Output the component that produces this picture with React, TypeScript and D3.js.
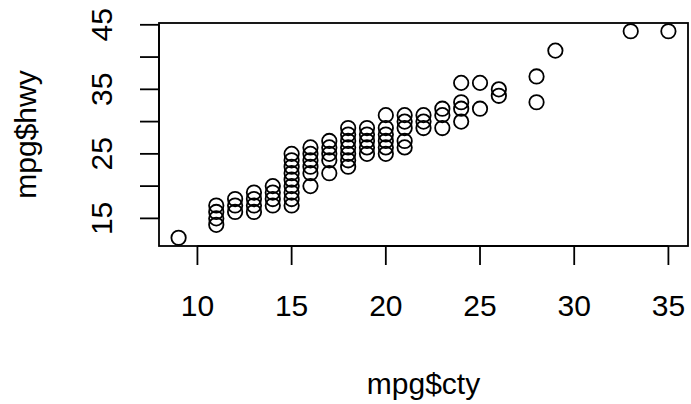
import React from "react";
import * as d3 from "d3";

const cty: number[] = [
  9,
  11, 11, 11, 11,
  12, 12, 12,
  13, 13, 13, 13,
  14, 14, 14, 14,
  15, 15, 15, 15, 15, 15, 15, 15, 15,
  16, 16, 16, 16, 16, 16,
  17, 17, 17, 17, 17,
  18, 18, 18, 18, 18, 18, 18,
  19, 19, 19, 19, 19,
  20, 20, 20, 20, 20, 20,
  21, 21, 21, 21, 21,
  22, 22, 22,
  23, 23, 23,
  24, 24, 24, 24,
  25, 25,
  26, 26,
  28, 28,
  29,
  33,
  35,
];
const hwy: number[] = [
  12,
  14, 15, 16, 17,
  16, 17, 18,
  16, 17, 18, 19,
  17, 18, 19, 20,
  17, 18, 19, 20, 21, 22, 23, 24, 25,
  20, 22, 23, 24, 25, 26,
  22, 24, 25, 26, 27,
  23, 24, 25, 26, 27, 28, 29,
  25, 26, 27, 28, 29,
  25, 26, 27, 28, 29, 31,
  26, 27, 29, 30, 31,
  29, 30, 31,
  29, 31, 32,
  30, 32, 33, 36,
  32, 36,
  34, 35,
  33, 37,
  41,
  44,
  44,
];
const xTicks: number[] = [10, 15, 20, 25, 30, 35];
const yTicks: number[] = [15, 20, 25, 30, 35, 40, 45];
const yTickLabels: number[] = [15, 25, 35, 45];
const xLabel = "mpg$cty";
const yLabel = "mpg$hwy";

const W = 691;
const H = 404;
const left = 159;
const right = 688;
const top = 23;
const bottom = 246;
const font = "'Liberation Sans', Arial, Helvetica, sans-serif";
const fs = 30;

function padExtent(v: number[]): [number, number] {
  const [a, b] = d3.extent(v) as [number, number];
  const d = (b - a) * 0.04;
  return [a - d, b + d];
}

export default function App() {
  const x = d3.scaleLinear().domain(padExtent(cty)).range([left, right]);
  const y = d3.scaleLinear().domain(padExtent(hwy)).range([bottom, top]);
  const tickLen = 19;
  return (
    <svg
      width={W}
      height={H}
      style={{ position: "absolute", left: 0, top: 0, background: "white" }}
      fontFamily={font}
    >
      <rect x={0} y={0} width={W} height={H} fill="white" />
      <rect
        x={left}
        y={top}
        width={right - left}
        height={bottom - top}
        fill="none"
        stroke="black"
        strokeWidth={1.8}
      />
      {/* x axis */}
      <line x1={x(xTicks[0])} x2={x(xTicks[xTicks.length - 1])} y1={bottom} y2={bottom} stroke="black" strokeWidth={1.8} />
      {xTicks.map((t) => (
        <g key={"xt" + t}>
          <line x1={x(t)} x2={x(t)} y1={bottom} y2={bottom + tickLen} stroke="black" strokeWidth={1.8} />
          <text x={x(t)} y={316} fontSize={fs} textAnchor="middle">
            {t}
          </text>
        </g>
      ))}
      {/* y axis */}
      <line x1={left} x2={left} y1={y(yTicks[0])} y2={y(yTicks[yTicks.length - 1])} stroke="black" strokeWidth={1.8} />
      {yTicks.map((t) => (
        <line key={"yt" + t} x1={left - tickLen} x2={left} y1={y(t)} y2={y(t)} stroke="black" strokeWidth={1.8} />
      ))}
      {yTickLabels.map((t) => (
        <text
          key={"yl" + t}
          transform={`translate(112,${y(t)}) rotate(-90)`}
          fontSize={fs}
          textAnchor="middle"
        >
          {t}
        </text>
      ))}
      <text x={(left + right) / 2} y={394} fontSize={fs} textAnchor="middle">
        {xLabel}
      </text>
      <text
        transform={`translate(36,${(top + bottom) / 2}) rotate(-90)`}
        fontSize={fs}
        textAnchor="middle"
      >
        {yLabel}
      </text>
      {cty.map((c, i) => (
        <circle
          key={"p" + i}
          cx={x(c)}
          cy={y(hwy[i])}
          r={7.2}
          fill="none"
          stroke="black"
          strokeWidth={1.8}
        />
      ))}
    </svg>
  );
}
